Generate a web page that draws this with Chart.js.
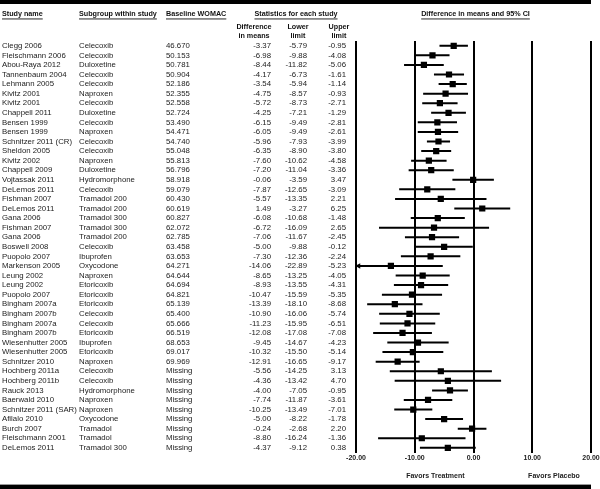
<!DOCTYPE html>
<html>
<head>
<meta charset="utf-8">
<script src="https://cdn.jsdelivr.net/npm/chart.js@4.4.1/dist/chart.umd.min.js"></script>
<style>
  html, body { margin: 0; padding: 0; background: #fff; }
  canvas { display: block; }
</style>
</head>
<body>
<canvas id="forest" width="600" height="489"></canvas>
<script>
// rows, top to bottom
const studies = ['Clegg 2006', 'Fleischmann 2006', 'Abou-Raya 2012', 'Tannenbaum 2004', 'Lehmann 2005',
    'Kivitz 2001', 'Kivitz 2001', 'Chappell 2011', 'Bensen 1999', 'Bensen 1999', 'Schnitzer 2011 (CR)',
    'Sheldon 2005', 'Kivitz 2002', 'Chappell 2009', 'Vojtassak 2011', 'DeLemos 2011', 'Fishman 2007',
    'DeLemos 2011', 'Gana 2006', 'Fishman 2007', 'Gana 2006', 'Boswell 2008', 'Puopolo 2007',
    'Markenson 2005', 'Leung 2002', 'Leung 2002', 'Puopolo 2007', 'Bingham 2007a', 'Bingham 2007b',
    'Bingham 2007a', 'Bingham 2007b', 'Wiesenhutter 2005', 'Wiesenhutter 2005', 'Schnitzer 2010',
    'Hochberg 2011a', 'Hochberg 2011b', 'Rauck 2013', 'Baerwald 2010', 'Schnitzer 2011 (SAR)',
    'Afilalo 2010', 'Burch 2007', 'Fleischmann 2001', 'DeLemos 2011'];

const subgroups = ['Celecoxib', 'Celecoxib', 'Duloxetine', 'Celecoxib', 'Celecoxib', 'Naproxen', 'Celecoxib',
    'Duloxetine', 'Celecoxib', 'Naproxen', 'Celecoxib', 'Celecoxib', 'Naproxen', 'Duloxetine', 'Hydromorphone',
    'Celecoxib', 'Tramadol 200', 'Tramadol 200', 'Tramadol 300', 'Tramadol 300', 'Tramadol 200', 'Celecoxib',
    'Ibuprofen', 'Oxycodone', 'Naproxen', 'Etoricoxib', 'Etoricoxib', 'Etoricoxib', 'Celecoxib', 'Celecoxib',
    'Etoricoxib', 'Ibuprofen', 'Etoricoxib', 'Naproxen', 'Celecoxib', 'Celecoxib', 'Hydromorphone', 'Naproxen',
    'Naproxen', 'Oxycodone', 'Tramadol', 'Tramadol', 'Tramadol 300'];

const baseline = ['46.670', '50.153', '50.781', '50.904', '52.186', '52.355', '52.558', '52.724', '53.490',
    '54.471', '54.740', '55.048', '55.813', '56.796', '58.918', '59.079', '60.430', '60.619', '60.827',
    '62.072', '62.785', '63.458', '63.653', '64.271', '64.644', '64.694', '64.821', '65.139', '65.400',
    '65.666', '66.519', '68.653', '69.017', '69.969', 'Missing', 'Missing', 'Missing', 'Missing', 'Missing',
    'Missing', 'Missing', 'Missing', 'Missing'];

const diffMeans = [-3.37, -6.98, -8.44, -4.17, -3.54, -4.75, -5.72, -4.25, -6.15, -6.05, -5.96, -6.35, -7.60,
    -7.20, -0.06, -7.87, -5.57, 1.49, -6.08, -6.72, -7.06, -5.00, -7.30, -14.06, -8.65, -8.93, -10.47, -13.39,
    -10.90, -11.23, -12.08, -9.45, -10.32, -12.91, -5.56, -4.36, -4.00, -7.74, -10.25, -5.00, -0.24, -8.80, -4.37];

const lowerLimit = [-5.79, -9.88, -11.82, -6.73, -5.94, -8.57, -8.73, -7.21, -9.49, -9.49, -7.93, -8.90, -10.62,
    -11.04, -3.59, -12.65, -13.35, -3.27, -10.68, -16.09, -11.67, -9.88, -12.36, -22.89, -13.25, -13.55, -15.59,
    -18.10, -16.06, -15.95, -17.08, -14.67, -15.50, -16.65, -14.25, -13.42, -7.05, -11.87, -13.49, -8.22, -2.68,
    -16.24, -9.12];

const upperLimit = [-0.95, -4.08, -5.06, -1.61, -1.14, -0.93, -2.71, -1.29, -2.81, -2.61, -3.99, -3.80, -4.58,
    -3.36, 3.47, -3.09, 2.21, 6.25, -1.48, 2.65, -2.45, -0.12, -2.24, -5.23, -4.05, -4.31, -5.35, -8.68, -5.74,
    -6.51, -7.08, -4.23, -5.14, -9.17, 3.13, 4.70, -0.95, -3.61, -7.01, -1.78, 2.20, -1.36, 0.38];

const xTicks = [-20, -10, 0, 10, 20];
const favorsLabels = ['Favors Treatment', 'Favors Placebo'];

const xMin = xTicks[0];
const xMax = xTicks[xTicks.length - 1];

// CI whiskers as one line with gaps between rows
const whiskers = [];
lowerLimit.forEach((lo, i) => {
    whiskers.push({ x: lo, y: i }, { x: upperLimit[i], y: i }, { x: null, y: null });
});
const squares = diffMeans.map((d, i) => ({ x: d, y: i }));
// rows whose CI runs off the left edge get an arrow
const arrows = lowerLimit.map((lo, i) => lo < xMin ? { x: xMin + 0.45, y: i } : null).filter(p => p);

const FONT = "'Liberation Sans', Arial, sans-serif";
Chart.defaults.font.family = FONT;
Chart.defaults.color = '#222';

function underlined(ctx, text, x, y, align) {
    ctx.textAlign = align;
    ctx.fillText(text, x, y);
    const w = ctx.measureText(text).width;
    const x0 = align === 'center' ? x - w / 2 : (align === 'right' ? x - w : x);
    ctx.fillRect(x0, y + 4.5, w, 0.9);
}

const tablePlugin = {
    id: 'tableText',
    afterDraw(chart) {
        const ctx = chart.ctx;
        const ys = chart.scales.y;
        const xs = chart.scales.x;
        ctx.save();
        ctx.fillStyle = '#000';
        // thick rules top and bottom
        ctx.fillRect(0, 0, 591, 4);
        ctx.fillStyle = '#999';
        ctx.fillRect(0, 484, 591, 1);
        ctx.fillStyle = '#000';
        ctx.fillRect(0, 485, 591, 4);

        ctx.textBaseline = 'middle';
        ctx.font = 'bold 7.2px ' + FONT;
        ctx.fillStyle = '#111';
        underlined(ctx, 'Study name', 2, 14, 'left');
        underlined(ctx, 'Subgroup within study', 79, 14, 'left');
        underlined(ctx, 'Baseline WOMAC', 166, 14, 'left');
        underlined(ctx, 'Statistics for each study', 296, 14, 'center');
        underlined(ctx, 'Difference in means and 95% CI', (xs.left + xs.right) / 2 + 2, 14, 'center');

        ctx.textAlign = 'center';
        ctx.fillText('Difference', 254, 27);
        ctx.fillText('in means', 254, 36);
        ctx.fillText('Lower', 298, 27);
        ctx.fillText('limit', 298, 36);
        ctx.fillText('Upper', 339, 27);
        ctx.fillText('limit', 339, 36);

        ctx.font = '7.8px ' + FONT;
        ctx.fillStyle = '#222';
        studies.forEach((name, i) => {
            const y = ys.getPixelForValue(i);
            ctx.textAlign = 'left';
            ctx.fillText(name, 2, y);
            ctx.fillText(subgroups[i], 79, y);
            ctx.fillText(baseline[i], 166, y);
            ctx.textAlign = 'right';
            ctx.fillText(diffMeans[i].toFixed(2), 271, y);
            ctx.fillText(lowerLimit[i].toFixed(2), 307, y);
            ctx.fillText(upperLimit[i].toFixed(2), 346, y);
        });

        ctx.font = 'bold 7px ' + FONT;
        ctx.textAlign = 'center';
        ctx.fillText(favorsLabels[0], xs.getPixelForValue(-6.5), 476);
        ctx.fillText(favorsLabels[1], xs.getPixelForValue(13.7), 476);
        ctx.restore();
    }
};

const whiskerSet = { type: 'line', borderColor: '#000', borderWidth: 2, pointRadius: 0, spanGaps: false, fill: false };
whiskerSet.data = whiskers;
const squareSet = { pointStyle: 'rect', pointRadius: 4.4, backgroundColor: '#000', borderWidth: 0 };
squareSet.data = squares;
const arrowSet = { pointStyle: 'triangle', rotation: -90, pointRadius: 3.2, backgroundColor: '#000', borderWidth: 0 };
arrowSet.data = arrows;

const config = {
    type: 'scatter',
    options: {
        responsive: false,
        animation: false,
        devicePixelRatio: 1,
        layout: { padding: { left: 356, right: 9, top: 41, bottom: 26 } },
        plugins: { legend: { display: false }, tooltip: { enabled: false } },
        scales: {
            x: {
                type: 'linear',
                min: xMin,
                max: xMax,
                afterBuildTicks: (axis) => { axis.ticks = xTicks.map(v => ({ value: v })); },
                // let the last tick label run into the right margin
                afterFit: (axis) => { axis.paddingRight = 0; axis.paddingLeft = 0; },
                grid: { color: '#000', lineWidth: 2, drawTicks: false },
                border: { display: false },
                ticks: {
                    padding: 1,
                    font: { size: 7, weight: 'bold' },
                    color: '#222',
                    callback: (v) => Number(v).toFixed(2)
                }
            },
            y: {
                type: 'linear',
                display: false,
                reverse: true,
                min: -0.5,
                max: studies.length - 0.5
            }
        }
    },
    plugins: [tablePlugin]
};
config.data = { datasets: [whiskerSet, squareSet, arrowSet] };

new Chart(document.getElementById('forest'), config);
</script>
</body>
</html>
